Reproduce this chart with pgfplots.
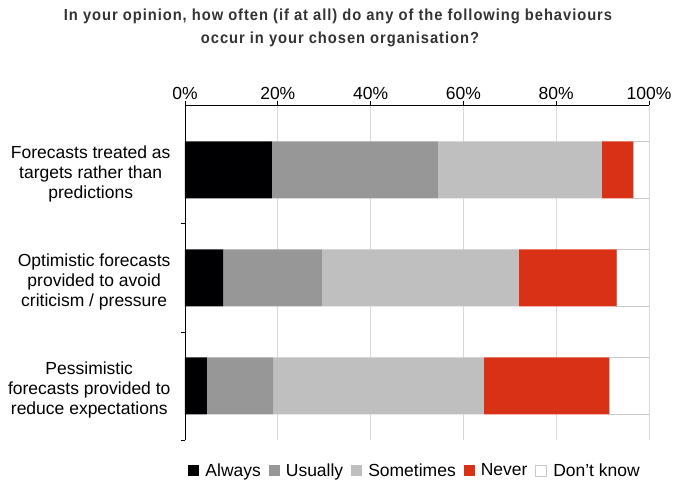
\documentclass[border=0pt]{standalone}
\usepackage{fontspec}
\setmainfont{Liberation Sans}
\newfontfamily\titlefont{Liberation Sans}[FakeStretch=0.92, LetterSpace=6]
\usepackage{pgfplots}
\pgfplotsset{compat=1.18}
\definecolor{cAlways}{HTML}{000003}
\definecolor{cUsually}{HTML}{969796}
\definecolor{cSometimes}{HTML}{BFBFBF}
\definecolor{cNever}{HTML}{D93116}
\definecolor{cDKedge}{HTML}{C8C8C8}
\definecolor{cGrid}{HTML}{D9D9D9}
\definecolor{cTitle}{HTML}{333333}
\begin{document}
\begin{tikzpicture}[x=1pt,y=1pt]
\path[use as bounding box] (0,0) rectangle (675,484);
\node[anchor=base, inner sep=0pt, text=cTitle, font=\titlefont\bfseries\fontsize{16}{23}\selectfont] at (338,463.3)
  {In your opinion, how often (if at all) do any of the following behaviours};
\node[anchor=base, inner sep=0pt, text=cTitle, font=\titlefont\bfseries\fontsize{16}{23}\selectfont] at (340,440.3)
  {occur in your chosen organisation?};
\begin{axis}[
  at={(185pt,44pt)}, anchor=south west,
  scale only axis, width=464pt, height=335pt,
  xbar stacked, bar width=57pt,
  xmin=0, xmax=100, ymin=-0.6, ymax=2.5,
  y dir=reverse,
  axis x line*=top, axis y line*=left,
  axis line style={black, line width=0.8pt},
  xtick={0,20,40,60,80,100},
  xticklabel={\pgfmathprintnumber{\tick}\%},
  /pgf/number format/assume math mode=true,
  tick align=outside,
  major tick length=4pt,
  tick style={black, line width=0.8pt},
  xmajorgrids, grid style={cGrid, line width=0.9pt},
  ytick={0.5,1.5,2.5}, yticklabels={},
  extra y ticks={0,1,2},
  extra y tick labels={{Forecasts treated as\\targets rather than\\predictions},
                       {Optimistic forecasts\\provided to avoid\\criticism / pressure},
                       {Pessimistic\\forecasts provided to\\reduce expectations}},
  extra y tick style={major tick length=0pt, grid=none,
     yticklabel style={align=center, xshift=-11pt, yshift=-4.5pt}},
  ticklabel style={font=\fontsize{17.5}{20}\selectfont},
  xticklabel style={yshift=-2pt},
  legend columns=-1,
  legend style={draw=none, at={(0.496,-0.091)}, anchor=center,
     font=\fontsize{17.5}{20}\selectfont,
     /tikz/every odd column/.append style={column sep=4pt},
     /tikz/every even column/.append style={column sep=6pt}},
  legend image code/.code={\path[#1] (0pt,-5.5pt) rectangle (11pt,5.5pt);},
]
\addplot[fill=cAlways, draw=none] coordinates {(18.7,0) (8.2,1) (4.7,2)};
\addplot[fill=cUsually, draw=none] coordinates {(35.8,0) (21.3,1) (14.3,2)};
\addplot[fill=cSometimes, draw=none] coordinates {(35.3,0) (42.4,1) (45.4,2)};
\addplot[fill=cNever, draw=none] coordinates {(6.8,0) (21.1,1) (27.0,2)};
\addplot[fill=white, draw=cDKedge, line width=0.8pt] coordinates {(3.4,0) (7.0,1) (8.6,2)};
\legend{Always, Usually, Sometimes, Never, Don’t know}
\end{axis}
\end{tikzpicture}
\end{document}
